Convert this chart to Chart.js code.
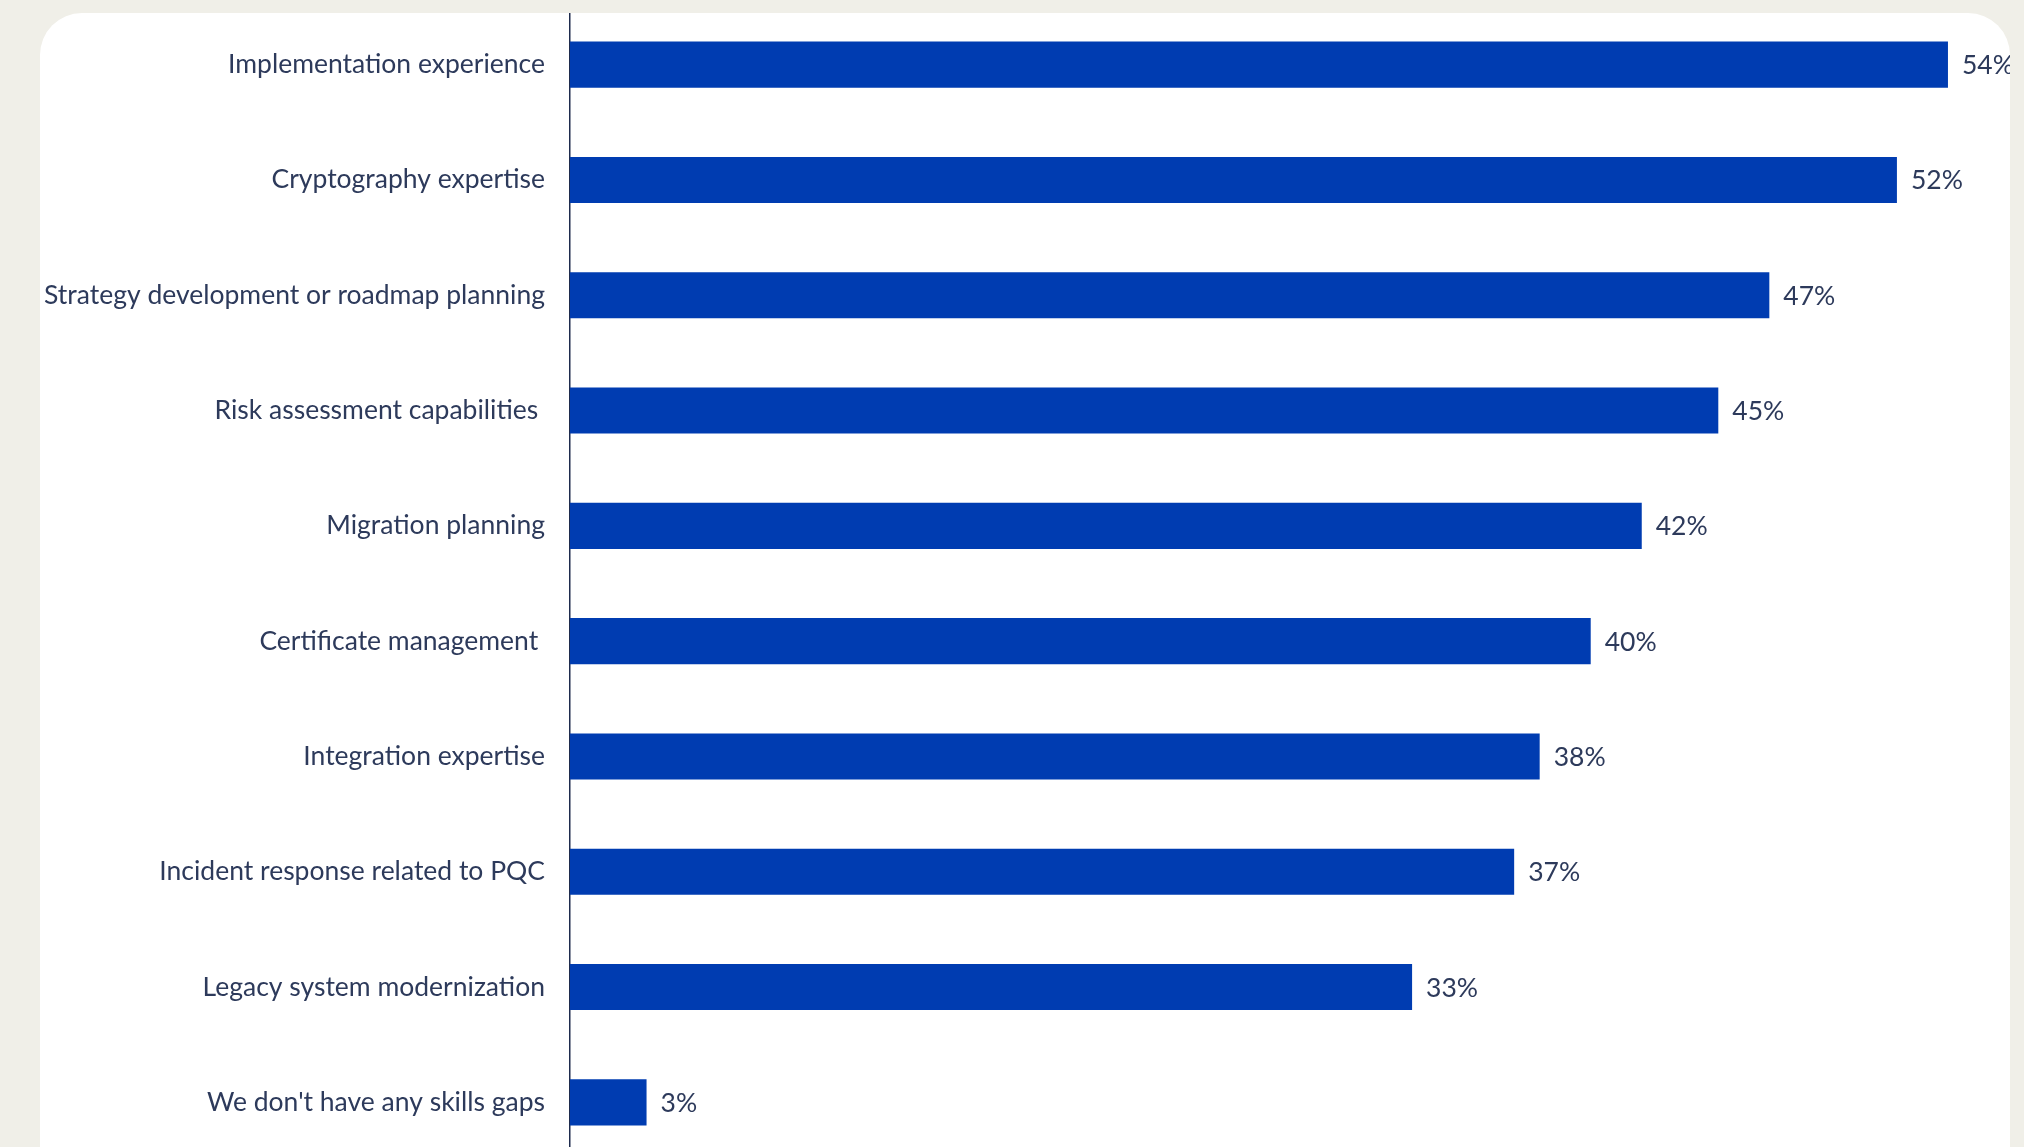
<!DOCTYPE html>
<html>
<head>
<meta charset="utf-8">
<script src="https://cdn.jsdelivr.net/npm/chart.js@4/dist/chart.umd.min.js"></script>
<style>
    html, body {
        margin: 0;
        padding: 0;
        width: 2024px;
        height: 1147px;
        overflow: hidden;
        background: #f0efe8;
    }
    .card {
        position: absolute;
        left: 40px;
        top: 13px;
        width: 1970px;
        height: 1200px;
        background: #ffffff;
        border-radius: 42px;
        overflow: hidden;
    }
    .chart-box {
        position: absolute;
        left: -40px;
        top: -13px;
        width: 2024px;
        height: 1170px;
    }
</style>
</head>
<body>
<div class="card">
    <div class="chart-box">
        <canvas id="skillsChart"></canvas>
    </div>
</div>

<script>
const categories = [
    'Implementation experience',
    'Cryptography expertise',
    'Strategy development or roadmap planning',
    'Risk assessment capabilities ',
    'Migration planning',
    'Certificate management ',
    'Integration expertise',
    'Incident response related to PQC',
    'Legacy system modernization',
    "We don't have any skills gaps"
];
const shares = [54, 52, 47, 45, 42, 40, 38, 37, 33, 3];

const barColor = '#003cb1';
const textColor = '#2d3a5b';
const fontFamily = 'Lato, "Open Sans", sans-serif';

// writes "NN%" just past the end of each bar
const valueLabels = {
    id: 'valueLabels',
    afterDatasetsDraw(chart) {
        const ctx = chart.ctx;
        const meta = chart.getDatasetMeta(0);
        ctx.save();
        ctx.font = '26.5px ' + fontFamily;
        ctx.fillStyle = textColor;
        ctx.textAlign = 'left';
        ctx.textBaseline = 'middle';
        meta.data.forEach((bar, i) => {
            ctx.fillText(shares[i] + '%', bar.x + 14, bar.y + 1);
        });
        ctx.restore();
    }
};

const ctx = document.getElementById('skillsChart').getContext('2d');
new Chart(ctx, {
    type: 'bar',
    data: {
        labels: categories,
        datasets: [{
            data: shares,
            backgroundColor: barColor,
            barPercentage: 1,
            categoryPercentage: 0.4
        }]
    },
    options: {
        indexAxis: 'y',
        responsive: true,
        maintainAspectRatio: false,
        animation: false,
        layout: {
            padding: { top: 7, bottom: 10, left: 0, right: 25 }
        },
        scales: {
            x: {
                display: false,
                min: 0,
                max: 56
            },
            y: {
                afterFit(scale) {
                    // fixed label column, and no extra room above/below for the labels
                    scale.width = 570;
                    scale.paddingTop = 0;
                    scale.paddingBottom = 0;
                },
                grid: { display: false, drawTicks: false },
                border: { display: true, color: '#1e2b4d', width: 1.5 },
                ticks: {
                    color: textColor,
                    padding: 25,
                    font: { family: fontFamily, size: 26.5 }
                }
            }
        },
        plugins: {
            legend: { display: false },
            tooltip: { enabled: false }
        }
    },
    plugins: [valueLabels]
});
</script>
</body>
</html>
